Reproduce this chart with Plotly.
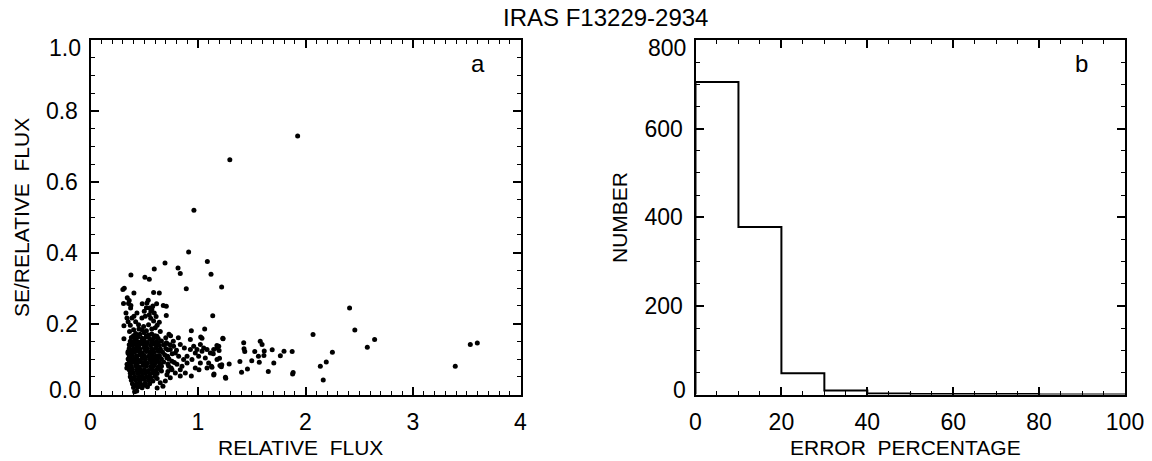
import plotly.graph_objects as go

# ---------------- data ----------------
# panel a: dense core of the scatter (relative flux, SE/relative flux)
flux_core = [0.42, 0.46, 0.50, 0.54, 0.57,
             0.38, 0.41, 0.44, 0.48, 0.52, 0.55, 0.59, 0.63,
             0.37, 0.40, 0.43, 0.47, 0.50, 0.53, 0.57, 0.61, 0.66,
             0.36, 0.39, 0.42, 0.45, 0.49, 0.52, 0.56, 0.60, 0.64, 0.68,
             0.36, 0.40, 0.43, 0.46, 0.50, 0.53, 0.57, 0.61, 0.65, 0.70,
             0.35, 0.38, 0.41, 0.45, 0.48, 0.52, 0.55, 0.59, 0.63, 0.67,
             0.36, 0.39, 0.43, 0.46, 0.50, 0.54, 0.57, 0.61, 0.64, 0.69,
             0.35, 0.38, 0.41, 0.44, 0.48, 0.51, 0.55, 0.59, 0.62, 0.66,
             0.36, 0.40, 0.43, 0.47, 0.50, 0.53, 0.57, 0.60, 0.64, 0.68,
             0.35, 0.38, 0.42, 0.45, 0.49, 0.52, 0.56, 0.59, 0.63, 0.66,
             0.36, 0.39, 0.43, 0.46, 0.50, 0.54, 0.57, 0.61, 0.65,
             0.37, 0.40, 0.44, 0.47, 0.51, 0.55, 0.58, 0.62,
             0.37, 0.41, 0.45, 0.48, 0.52, 0.56, 0.60,
             0.38, 0.42, 0.46, 0.50, 0.54, 0.58,
             0.39, 0.43, 0.47, 0.51, 0.55,
             0.40, 0.44, 0.48, 0.53,
             0.41, 0.43, 0.62,
             0.40, 0.44, 0.52, 0.60,
             0.38, 0.45, 0.51, 0.58, 0.63, 0.71,
             0.37, 0.44, 0.51, 0.58, 0.65, 0.72,
             0.37, 0.43, 0.50, 0.57, 0.64, 0.71,
             0.37, 0.43, 0.51, 0.58, 0.65, 0.72,
             0.38, 0.45, 0.52, 0.59, 0.66,
             0.39, 0.47, 0.55, 0.62,
             0.42, 0.50]
se_core = [0.172, 0.170, 0.174, 0.168, 0.171,
           0.161, 0.158, 0.162, 0.159, 0.163, 0.157, 0.160, 0.158,
           0.150, 0.148, 0.151, 0.149, 0.152, 0.147, 0.150, 0.149, 0.151,
           0.140, 0.139, 0.141, 0.138, 0.142, 0.140, 0.139, 0.141, 0.138, 0.140,
           0.130, 0.129, 0.131, 0.128, 0.132, 0.130, 0.129, 0.131, 0.128, 0.130,
           0.121, 0.119, 0.120, 0.122, 0.118, 0.121, 0.119, 0.120, 0.122, 0.119,
           0.110, 0.111, 0.109, 0.112, 0.110, 0.108, 0.111, 0.109, 0.110, 0.112,
           0.100, 0.099, 0.101, 0.098, 0.102, 0.100, 0.099, 0.101, 0.098, 0.100,
           0.090, 0.091, 0.089, 0.092, 0.090, 0.088, 0.091, 0.089, 0.090, 0.092,
           0.080, 0.079, 0.081, 0.078, 0.082, 0.080, 0.079, 0.081, 0.078, 0.080,
           0.070, 0.071, 0.069, 0.072, 0.070, 0.068, 0.071, 0.069, 0.070,
           0.060, 0.061, 0.059, 0.062, 0.060, 0.058, 0.061, 0.059,
           0.050, 0.051, 0.049, 0.052, 0.050, 0.048, 0.051,
           0.040, 0.041, 0.039, 0.042, 0.040, 0.038,
           0.030, 0.031, 0.029, 0.032, 0.030,
           0.020, 0.021, 0.019, 0.022,
           0.008, 0.010, 0.018,
           0.166, 0.165, 0.164, 0.166,
           0.145, 0.146, 0.144, 0.145, 0.146, 0.144,
           0.125, 0.124, 0.126, 0.125, 0.124, 0.126,
           0.105, 0.106, 0.104, 0.105, 0.106, 0.104,
           0.085, 0.084, 0.086, 0.085, 0.084, 0.086,
           0.065, 0.066, 0.064, 0.065, 0.066,
           0.045, 0.044, 0.046, 0.045,
           0.025, 0.026]

# panel a: points above the core (y roughly 0.16 - 0.75)
flux_high = [0.376, 0.506, 0.547, 0.593, 0.693, 0.814, 0.835, 0.913, 0.891, 1.087,
             1.121, 1.220, 0.301, 0.314, 0.404, 0.587, 0.640, 0.342, 0.307, 0.354,
             0.376, 0.537, 0.525, 0.550, 0.571, 0.481, 0.593, 0.562, 0.547, 0.509,
             0.478, 0.615, 0.705, 0.677, 0.373, 0.339, 0.385, 0.404, 0.311, 0.311,
             0.705, 1.137, 0.640, 0.432, 0.447, 0.494, 0.540, 0.602, 0.401, 0.478,
             0.363, 0.649, 0.618, 0.587, 0.348, 0.340, 0.338, 0.962, 1.296, 1.927,
             0.52, 0.56, 0.58, 0.50, 0.61, 0.35, 0.37, 0.33, 0.36, 0.42,
             0.45, 0.52, 0.57, 0.62]
se_high = [0.337, 0.331, 0.325, 0.354, 0.371, 0.357, 0.341, 0.402, 0.298, 0.375,
           0.339, 0.303, 0.296, 0.300, 0.286, 0.288, 0.286, 0.273, 0.257, 0.257,
           0.251, 0.266, 0.258, 0.244, 0.241, 0.256, 0.230, 0.235, 0.225, 0.221,
           0.216, 0.256, 0.249, 0.251, 0.244, 0.216, 0.216, 0.221, 0.194, 0.157,
           0.223, 0.222, 0.204, 0.230, 0.197, 0.192, 0.197, 0.188, 0.183, 0.183,
           0.178, 0.178, 0.164, 0.207, 0.117, 0.085, 0.075, 0.520, 0.662, 0.729,
           0.245, 0.215, 0.250, 0.235, 0.220, 0.205, 0.195, 0.230, 0.265, 0.205,
           0.185, 0.180, 0.185, 0.195]

# panel a: moderately dense band to the right of the core (flux 0.65 - 1.3)
flux_mid = [0.745, 0.817, 0.938, 1.062, 1.025, 1.037, 0.929, 1.233, 0.705, 0.773,
            0.835, 0.873, 0.960, 0.991, 1.022, 1.053, 0.975, 0.929, 0.898, 0.866,
            0.820, 0.789, 0.742, 0.717, 0.758, 0.804, 0.851, 0.898, 0.944, 1.006,
            1.037, 1.084, 1.115, 1.146, 1.177, 1.068, 1.099, 1.022, 0.975, 1.009,
            0.938, 0.882, 0.835, 0.789, 0.742, 0.711, 0.696, 0.758, 0.835, 0.727,
            1.084, 1.130, 1.146, 1.177, 1.217, 1.258, 1.196, 1.193, 0.674, 0.649,
            1.142, 1.176, 1.200, 1.125, 1.149, 1.221, 1.204,
            0.74, 0.76, 0.73, 0.78, 0.75, 0.72, 0.77, 0.80, 0.70, 0.73]
se_mid = [0.166, 0.160, 0.180, 0.185, 0.162, 0.159, 0.155, 0.157, 0.146, 0.136,
          0.141, 0.131, 0.136, 0.127, 0.141, 0.131, 0.117, 0.127, 0.108, 0.099,
          0.108, 0.117, 0.127, 0.108, 0.094, 0.085, 0.080, 0.089, 0.099, 0.108,
          0.122, 0.127, 0.117, 0.127, 0.131, 0.103, 0.089, 0.089, 0.075, 0.070,
          0.052, 0.061, 0.052, 0.061, 0.047, 0.056, 0.038, 0.070, 0.070, 0.080,
          0.075, 0.077, 0.055, 0.099, 0.078, 0.046, 0.124, 0.136, 0.023, 0.033,
          0.115, 0.138, 0.102, 0.080, 0.058, 0.084, 0.082,
          0.140, 0.115, 0.100, 0.090, 0.075, 0.065, 0.150, 0.125, 0.160, 0.170]

# panel a: sparse points at large relative flux
flux_far = [2.410, 2.459, 2.070, 2.643, 2.575, 2.250, 2.193, 2.138, 2.165, 3.393,
            3.533, 3.598, 1.876, 1.800, 1.880, 1.885, 1.766, 1.690, 1.705, 1.654,
            1.579, 1.596, 1.616, 1.613, 1.562, 1.570, 1.528, 1.500, 1.425, 1.428,
            1.435, 1.390, 1.460, 1.405, 1.290, 1.255, 1.231]
se_far = [0.244, 0.182, 0.169, 0.155, 0.133, 0.119, 0.092, 0.080, 0.041, 0.080,
          0.141, 0.145, 0.121, 0.122, 0.058, 0.062, 0.109, 0.126, 0.089, 0.065,
          0.150, 0.141, 0.123, 0.110, 0.108, 0.091, 0.121, 0.095, 0.146, 0.129,
          0.121, 0.093, 0.072, 0.063, 0.086, 0.049, 0.159]

# panel b: histogram of error percentage
bin_edges = [0, 10, 20, 30, 40, 50, 60, 70, 80, 90, 100]
bin_counts = [705, 378, 48, 9, 2, 1, 1, 1, 0, 0]

# tick values / labels
ya_vals = [0.0, 0.2, 0.4, 0.6, 0.8, 1.0]
ya_text = ["0.0", "0.2", "0.4", "0.6", "0.8", "1.0"]
yb_vals = [0, 200, 400, 600, 800]
yb_text = ["0", "200", "400", "600", "800"]

title_text = "IRAS F13229-2934"

# ---------------- figure ----------------
W, H = 1152, 461


def fx(p):
    return p / W


def fy(p):
    return 1 - p / H


FONT = "Liberation Sans, Arial, Helvetica, sans-serif"

flux_all = flux_core + flux_high + flux_mid + flux_far
se_all = se_core + se_high + se_mid + se_far

fig = go.Figure()
fig.add_trace(go.Scatter(
    x=flux_all, y=se_all, mode="markers",
    marker=dict(color="black", size=5, line=dict(width=0)),
    xaxis="x", yaxis="y", showlegend=False, cliponaxis=False,
))

step_x = [bin_edges[0]] + bin_edges
step_y = [0] + bin_counts + [bin_counts[-1]]
fig.add_trace(go.Scatter(
    x=step_x, y=step_y, mode="lines",
    line=dict(color="black", width=2, shape="hv"),
    xaxis="x2", yaxis="y2", showlegend=False,
))

tickfont = dict(family=FONT, size=23, color="black")


def axis_common(**kw):
    d = dict(
        showline=True, linecolor="black", linewidth=2, mirror="ticks",
        ticks="inside", ticklen=8, tickwidth=1.5, tickcolor="black",
        showgrid=False, zeroline=False, tickfont=tickfont,
        fixedrange=True, automargin=False,
    )
    d.update(kw)
    return d


# interior y tick labels come from the axes; the end labels (which sit
# slightly inside the frame in the reference) are placed as annotations
ya_axis_text = [""] + ya_text[1:-1] + [""]
yb_axis_text = [""] + yb_text[1:-1] + [""]

ydom = [fy(394.5), fy(40)]
fig.update_layout(
    template="none",
    width=W, height=H,
    margin=dict(l=0, r=0, t=0, b=0, pad=0, autoexpand=False),
    paper_bgcolor="white", plot_bgcolor="white",
    xaxis=axis_common(domain=[fx(90.5), fx(520.5)], range=[0, 4], tick0=0, dtick=1,
                      anchor="y", ticklabelstandoff=6,
                      minor=dict(dtick=0.1, ticks="inside", ticklen=4, tickwidth=1,
                                 tickcolor="black", showgrid=False)),
    yaxis=axis_common(domain=ydom, range=[0, 1], tickmode="array",
                      tickvals=ya_vals, ticktext=ya_axis_text,
                      anchor="x", ticklabelstandoff=6,
                      minor=dict(dtick=0.05, tick0=0, ticks="inside", ticklen=4, tickwidth=1,
                                 tickcolor="black", showgrid=False)),
    xaxis2=axis_common(domain=[fx(695.5), fx(1125)], range=[0, 100], tick0=0, dtick=20,
                       anchor="y2", ticklabelstandoff=6,
                       minor=dict(dtick=5, ticks="inside", ticklen=4, tickwidth=1,
                                  tickcolor="black", showgrid=False)),
    yaxis2=axis_common(domain=ydom, range=[0, 800], tickmode="array",
                       tickvals=yb_vals, ticktext=yb_axis_text,
                       anchor="x2", ticklabelstandoff=6,
                       minor=dict(dtick=50, tick0=0, ticks="inside", ticklen=4, tickwidth=1,
                                  tickcolor="black", showgrid=False)),
)

ann_font = dict(family=FONT, size=21, color="black")
big_font = dict(family=FONT, size=24, color="black")
annotations = [
    dict(text=title_text, x=fx(605), y=fy(17.5), font=big_font),
    dict(text="a", x=fx(477.5), y=fy(64), font=big_font),
    dict(text="b", x=fx(1081.5), y=fy(63), font=big_font),
    dict(text="RELATIVE\u00a0 FLUX", x=fx(300), y=fy(447), font=ann_font),
    dict(text="ERROR\u00a0 PERCENTAGE", x=fx(905), y=fy(447), font=ann_font),
    dict(text="SE/RELATIVE\u00a0 FLUX", x=fx(21), y=fy(218), textangle=-90, font=ann_font),
    dict(text="NUMBER", x=fx(619), y=fy(218), textangle=-90, font=ann_font),
    dict(text=ya_text[-1], x=fx(82.5), y=fy(48), xanchor="right", font=tickfont),
    dict(text=ya_text[0], x=fx(82.5), y=fy(390), xanchor="right", font=tickfont),
    dict(text=yb_text[-1], x=fx(687.5), y=fy(48), xanchor="right", font=tickfont),
    dict(text=yb_text[0], x=fx(687.5), y=fy(390), xanchor="right", font=tickfont),
]
for a in annotations:
    a.setdefault("xanchor", "center")
    a.update(xref="paper", yref="paper", showarrow=False, yanchor="middle")
fig.update_layout(annotations=annotations)

fig.write_html("out.html")
